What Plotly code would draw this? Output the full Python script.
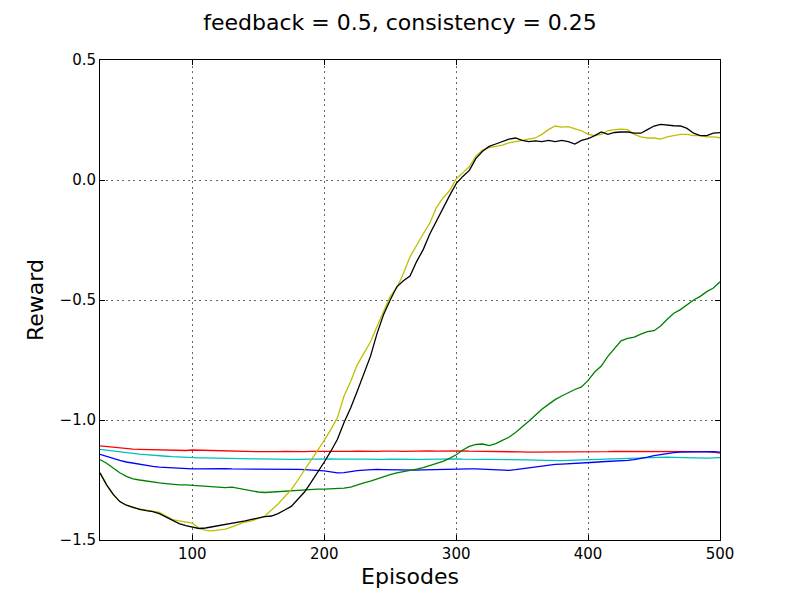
import plotly.graph_objects as go

episodes = list(range(30, 501, 5))

yellow = [-1.22, -1.27, -1.31, -1.34, -1.355, -1.365, -1.37, -1.375, -1.38, -1.385,
          -1.40, -1.415, -1.42, -1.425, -1.43, -1.45, -1.46, -1.462, -1.46, -1.455,
          -1.445, -1.435, -1.425, -1.42, -1.41, -1.40, -1.375, -1.35, -1.32, -1.29,
          -1.25, -1.21, -1.17, -1.125, -1.085, -1.04, -0.99, -0.90, -0.84, -0.77,
          -0.72, -0.675, -0.61, -0.545, -0.485, -0.45, -0.39, -0.32, -0.27, -0.225,
          -0.18, -0.115, -0.075, -0.045, 0.005, 0.03, 0.055, 0.10, 0.125, 0.135,
          0.14, 0.145, 0.155, 0.16, 0.165, 0.17, 0.175, 0.19, 0.21, 0.225,
          0.22, 0.222, 0.215, 0.205, 0.19, 0.185, 0.19, 0.205, 0.21, 0.212,
          0.21, 0.19, 0.18, 0.175, 0.175, 0.17, 0.18, 0.185, 0.19, 0.19,
          0.185, 0.185, 0.18, 0.18, 0.176]

black = [-1.22, -1.27, -1.31, -1.34, -1.355, -1.365, -1.372, -1.378, -1.382, -1.39,
         -1.405, -1.418, -1.432, -1.44, -1.447, -1.452, -1.45, -1.445, -1.44, -1.437,
         -1.433, -1.428, -1.42, -1.414, -1.408, -1.403, -1.40, -1.39, -1.375, -1.36,
         -1.33, -1.30, -1.26, -1.22, -1.175, -1.13, -1.08, -1.01, -0.95, -0.88,
         -0.81, -0.735, -0.64, -0.56, -0.50, -0.445, -0.42, -0.40, -0.34, -0.29,
         -0.225, -0.17, -0.115, -0.065, -0.015, 0.015, 0.04, 0.09, 0.12, 0.14,
         0.15, 0.16, 0.17, 0.175, 0.165, 0.16, 0.163, 0.16, 0.165, 0.16,
         0.165, 0.16, 0.15, 0.165, 0.172, 0.185, 0.20, 0.19, 0.198, 0.20,
         0.20, 0.195, 0.195, 0.21, 0.225, 0.232, 0.228, 0.226, 0.225, 0.215,
         0.195, 0.185, 0.185, 0.195, 0.197]

green = [-1.165, -1.18, -1.20, -1.22, -1.235, -1.245, -1.25, -1.255, -1.258, -1.262,
         -1.265, -1.268, -1.27, -1.27, -1.272, -1.275, -1.276, -1.277, -1.28, -1.282,
         -1.28, -1.285, -1.29, -1.296, -1.30, -1.302, -1.30, -1.298, -1.297, -1.297,
         -1.295, -1.29, -1.288, -1.288, -1.288, -1.287, -1.286, -1.284, -1.28, -1.27,
         -1.262, -1.255, -1.245, -1.235, -1.228, -1.22, -1.215, -1.213, -1.205, -1.198,
         -1.19, -1.183, -1.172, -1.16, -1.145, -1.125, -1.11, -1.102, -1.10, -1.107,
         -1.098, -1.085, -1.072, -1.052, -1.03, -1.005, -0.98, -0.955, -0.935, -0.915,
         -0.90, -0.885, -0.873, -0.862, -0.835, -0.80, -0.775, -0.735, -0.70, -0.67,
         -0.66, -0.655, -0.642, -0.632, -0.628, -0.608, -0.58, -0.555, -0.54, -0.52,
         -0.50, -0.485, -0.465, -0.45, -0.424]

red = [-1.108, -1.111, -1.114, -1.117, -1.119, -1.121, -1.122, -1.123, -1.124, -1.125,
       -1.125, -1.126, -1.126, -1.127, -1.125, -1.126, -1.127, -1.128, -1.129, -1.13,
       -1.13, -1.131, -1.13, -1.131, -1.132, -1.132, -1.133, -1.132, -1.131, -1.132,
       -1.133, -1.132, -1.131, -1.132, -1.132, -1.131, -1.131, -1.132, -1.131, -1.13,
       -1.131, -1.13, -1.131, -1.13, -1.129, -1.13, -1.131, -1.13, -1.129, -1.13,
       -1.129, -1.13, -1.129, -1.128, -1.128, -1.129, -1.13, -1.13, -1.131, -1.13,
       -1.131, -1.132, -1.133, -1.132, -1.133, -1.134, -1.134, -1.135, -1.135, -1.134,
       -1.135, -1.135, -1.134, -1.135, -1.134, -1.133, -1.133, -1.132, -1.131, -1.131,
       -1.131, -1.13, -1.13, -1.13, -1.129, -1.13, -1.13, -1.131, -1.131, -1.132,
       -1.131, -1.132, -1.132, -1.134, -1.138]

cyan = [-1.122, -1.126, -1.13, -1.134, -1.137, -1.139, -1.142, -1.145, -1.147, -1.149,
        -1.151, -1.153, -1.155, -1.156, -1.157, -1.158, -1.158, -1.159, -1.16, -1.16,
        -1.161, -1.161, -1.162, -1.162, -1.162, -1.163, -1.163, -1.163, -1.163, -1.164,
        -1.164, -1.163, -1.163, -1.163, -1.163, -1.162, -1.163, -1.164, -1.164, -1.163,
        -1.163, -1.164, -1.164, -1.164, -1.163, -1.164, -1.164, -1.163, -1.164, -1.164,
        -1.163, -1.163, -1.163, -1.163, -1.162, -1.163, -1.163, -1.163, -1.164, -1.165,
        -1.164, -1.164, -1.165, -1.165, -1.165, -1.166, -1.167, -1.168, -1.168, -1.169,
        -1.169, -1.168, -1.167, -1.166, -1.165, -1.164, -1.164, -1.163, -1.162, -1.161,
        -1.16, -1.159, -1.158, -1.157, -1.156, -1.155, -1.155, -1.156, -1.157, -1.159,
        -1.16, -1.16, -1.159, -1.158, -1.157]

blue = [-1.143, -1.152, -1.16, -1.168, -1.175, -1.18, -1.185, -1.19, -1.193, -1.196,
        -1.198, -1.2, -1.202, -1.203, -1.204, -1.204, -1.203, -1.202, -1.203, -1.203,
        -1.204, -1.204, -1.203, -1.204, -1.204, -1.205, -1.205, -1.205, -1.205, -1.206,
        -1.206, -1.207, -1.208, -1.21, -1.212, -1.216, -1.22, -1.219, -1.214, -1.211,
        -1.209, -1.207, -1.206, -1.207, -1.208, -1.209, -1.21, -1.21, -1.209, -1.208,
        -1.207, -1.207, -1.206, -1.205, -1.205, -1.204, -1.204, -1.204, -1.205, -1.206,
        -1.209, -1.211, -1.21, -1.207, -1.203, -1.198, -1.194, -1.191, -1.188, -1.185,
        -1.184, -1.183, -1.182, -1.18, -1.178, -1.176, -1.174, -1.173, -1.172, -1.171,
        -1.168, -1.165, -1.161, -1.155, -1.148, -1.143, -1.139, -1.136, -1.134, -1.133,
        -1.132, -1.132, -1.131, -1.132, -1.134]

x_ticks = [100, 200, 300, 400, 500]
x_ticktext = ["100", "200", "300", "400", "500"]
y_ticks = [0.5, 0.0, -0.5, -1.0, -1.5]
y_ticktext = ["0.5", "0.0", "\u22120.5", "\u22121.0", "\u22121.5"]

series = [
    ("red", red, "#ff0000"),
    ("cyan", cyan, "#00bfbf"),
    ("blue", blue, "#0000ff"),
    ("green", green, "#008000"),
    ("yellow", yellow, "#bfbf00"),
    ("black", black, "#000000"),
]

fig = go.Figure()
for name, vals, col in series:
    fig.add_trace(go.Scatter(x=episodes, y=vals, mode="lines", name=name,
                             line=dict(color=col, width=1.3)))

font_family = "DejaVu Sans"
axis_common = dict(
    showline=True, linecolor="black", linewidth=1, mirror="ticks",
    ticks="inside", ticklen=5, tickcolor="black", tickwidth=1,
    showgrid=True, gridcolor="#666666", griddash="2px,3.5px", gridwidth=1,
    zeroline=False, tickfont=dict(family=font_family, size=15, color="black"),
)

fig.update_layout(
    width=800, height=600,
    margin=dict(l=100, r=80, t=60, b=60),
    paper_bgcolor="white", plot_bgcolor="white",
    showlegend=False,
    font=dict(family=font_family, color="black"),
    title=dict(text="feedback = 0.5, consistency = 0.25", x=0.5, xref="container",
               y=1 - 22 / 600, yref="container", yanchor="middle", xanchor="center",
               font=dict(family=font_family, size=22, color="black")),
    xaxis=dict(range=[30, 500], tickvals=x_ticks, ticktext=x_ticktext,
               title=dict(text="Episodes", font=dict(family=font_family, size=22), standoff=6),
               **axis_common),
    yaxis=dict(range=[-1.5, 0.5], tickvals=y_ticks, ticktext=y_ticktext,
               title=dict(text="Reward", font=dict(family=font_family, size=22), standoff=9),
               **axis_common),
)

fig.write_html("out.html")
